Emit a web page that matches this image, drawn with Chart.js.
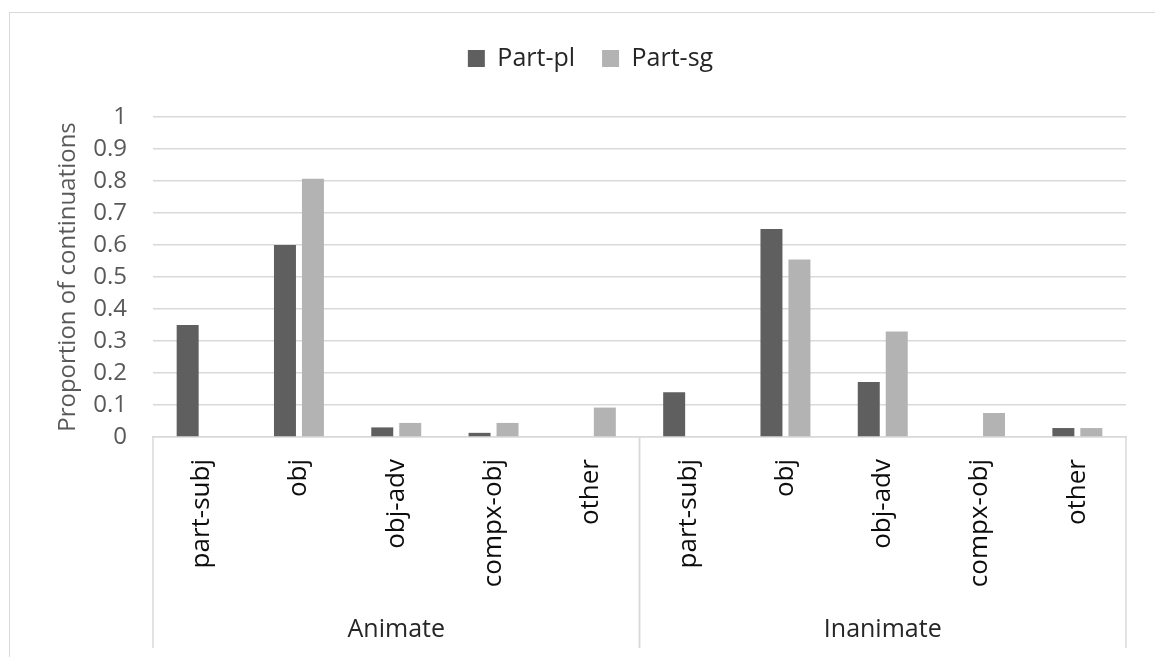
<!DOCTYPE html>
<html>
<head>
<meta charset="utf-8">
<script src="https://cdn.jsdelivr.net/npm/chart.js@4.4.0/dist/chart.umd.min.js"></script>
<style>
  html, body { margin: 0; padding: 0; background: #fff; overflow: hidden; }
  #box {
    position: absolute; left: 9px; top: 12px;
    width: 1161px; height: 680px;
    border: 1.5px solid #d9d9d9;
    background: #fff;
  }
</style>
</head>
<body>
<div id="box"><canvas id="myChart"></canvas></div>
<script>
// groups and the categories inside each group
const groups = ['Animate', 'Inanimate'];
const subCategories = ['part-subj', 'obj', 'obj-adv', 'compx-obj', 'other'];
const categories = groups.flatMap(() => subCategories);

// proportions (Animate first, then Inanimate)
const partPl = [0.35, 0.60, 0.03, 0.013, 0, 0.14, 0.65, 0.172, 0, 0.028];
const partSg = [0, 0.807, 0.044, 0.044, 0.092, 0, 0.555, 0.33, 0.075, 0.028];

const yTicks = [0, 0.1, 0.2, 0.3, 0.4, 0.5, 0.6, 0.7, 0.8, 0.9, 1];

const GRID = '#d9d9d9';

// draws the second level of the category axis (group names + separators)
const groupAxis = {
  id: 'groupAxis',
  afterDraw(chart) {
    const x = chart.scales.x;
    const ctx = chart.ctx;
    const step = x.width / categories.length;
    const lineBottom = 635;
    ctx.save();
    ctx.strokeStyle = GRID;
    ctx.lineWidth = 1.5;
    groups.forEach((g, gi) => {
      const first = gi * subCategories.length;
      const last = first + subCategories.length - 1;
      const left = x.getPixelForValue(first) - step / 2;
      const right = x.getPixelForValue(last) + step / 2;
      ctx.beginPath();
      ctx.moveTo(left, x.top);
      ctx.lineTo(left, lineBottom);
      ctx.moveTo(right, x.top);
      ctx.lineTo(right, lineBottom);
      ctx.stroke();
      ctx.fillStyle = '#262626';
      ctx.font = '25px "Open Sans"';
      ctx.textAlign = 'center';
      ctx.textBaseline = 'middle';
      ctx.fillText(g, (left + right) / 2, 617);
    });
    ctx.restore();
  }
};

// more room under the legend
const legendGap = {
  id: 'legendGap',
  beforeInit(chart) {
    const fit = chart.legend.fit;
    chart.legend.fit = function () {
      fit.call(this);
      this.height += 36;
    };
  }
};

const ctx = document.getElementById('myChart').getContext('2d');
const myChart = new Chart(ctx, {
  type: 'bar',
  data: {
    labels: categories,
    datasets: [{
      label: 'Part-pl',
      data: partPl,
      backgroundColor: '#5f5f5f',
      barPercentage: 0.786,
      categoryPercentage: 0.575
    }, {
      label: 'Part-sg',
      data: partSg,
      backgroundColor: '#b3b3b3',
      barPercentage: 0.786,
      categoryPercentage: 0.575
    }]
  },
  options: {
    responsive: true,
    maintainAspectRatio: false,
    animation: false,
    layout: { padding: { top: 6, right: 0, bottom: 0, left: 0 } },
    plugins: {
      tooltip: { enabled: false },
      legend: {
        position: 'top',
        labels: {
          boxWidth: 17,
          boxHeight: 17,
          padding: 27,
          color: '#262626',
          font: { family: 'Open Sans', size: 25 }
        }
      }
    },
    scales: {
      x: {
        grid: { display: false, drawTicks: false },
        border: { display: true, color: GRID, width: 1.5 },
        ticks: {
          autoSkip: false,
          minRotation: 90,
          maxRotation: 90,
          padding: 22,
          color: '#0d0d0d',
          font: { family: 'Open Sans', size: 26 }
        },
        afterFit(scale) { scale.height = 256; }
      },
      y: {
        min: 0,
        max: 1,
        afterBuildTicks(scale) { scale.ticks = yTicks.map(v => ({ value: v })); },
        grid: { color: GRID, lineWidth: 1.5, drawTicks: false },
        border: { display: false },
        ticks: {
          padding: 26,
          color: '#595959',
          font: { family: 'Open Sans', size: 24 },
          callback: v => String(v)
        },
        title: {
          display: true,
          text: 'Proportion of continuations',
          color: '#595959',
          font: { family: 'Open Sans', size: 24 },
          padding: { top: 44, bottom: 0 }
        },
        afterFit(scale) { scale.width = 143; }
      },
      // empty right axis, only keeps the space on the right of the plot
      yRight: {
        position: 'right',
        min: 0,
        max: 1,
        grid: { display: false, drawTicks: false },
        border: { display: false },
        ticks: { display: false },
        afterFit(scale) { scale.width = 45; }
      }
    }
  },
  plugins: [groupAxis, legendGap]
});
</script>
</body>
</html>
